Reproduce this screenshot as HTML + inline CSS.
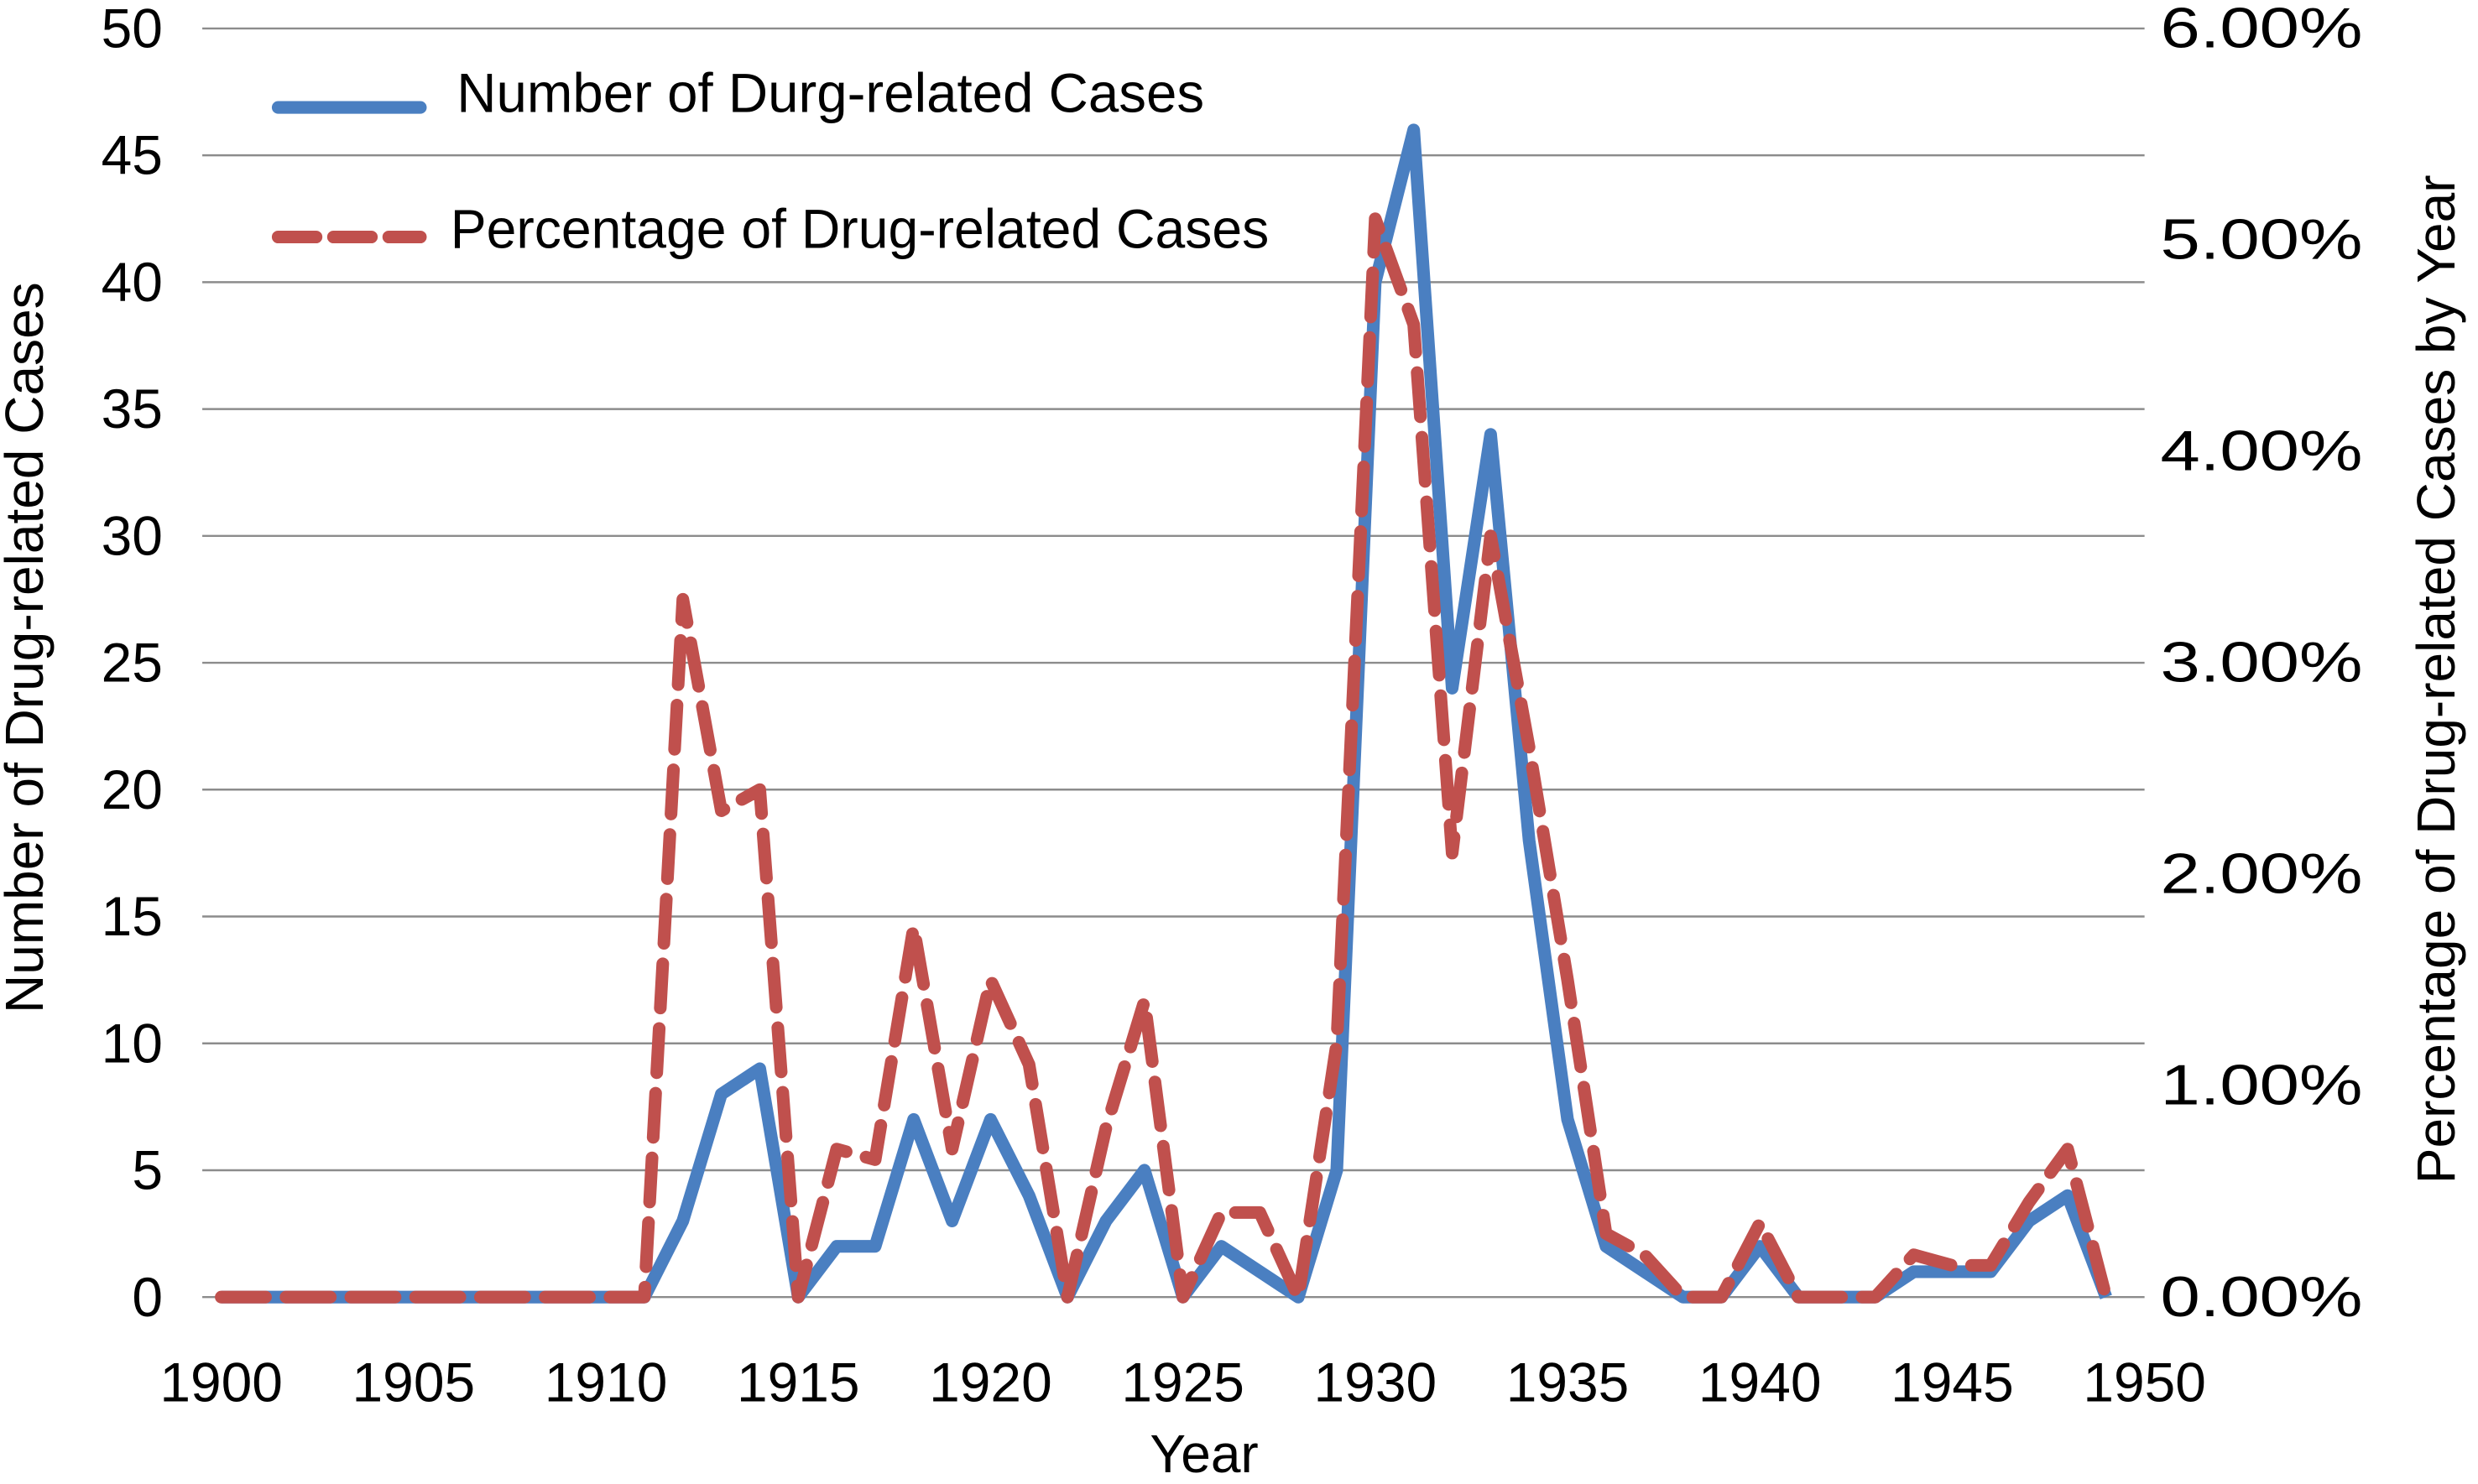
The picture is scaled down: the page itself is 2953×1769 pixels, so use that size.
<!DOCTYPE html>
<html><head><meta charset="utf-8"><style>html,body{margin:0;padding:0;background:#fff}svg{display:block}</style></head>
<body>
<svg id="chart" width="2953" height="1769" viewBox="0 0 1568 939.3" xmlns="http://www.w3.org/2000/svg" font-family="'Liberation Sans', sans-serif">
<g id="grid"></g>
<g id="ticks"></g>
<g id="series"></g>
<text transform="translate(27,410) rotate(-90)" text-anchor="middle" font-size="34" fill="#000">Number of Drug-related Cases</text>
<text transform="translate(1553,430) rotate(-90)" text-anchor="middle" font-size="34" fill="#000">Percentage of Drug-related Cases by Year</text>
<text x="762" y="932" text-anchor="middle" font-size="34" fill="#000">Year</text>
<g>
<line x1="176" y1="68" x2="266" y2="68" stroke="#4a7fc1" stroke-width="8" stroke-linecap="round"/>
<text x="289" y="71" font-size="35" textLength="473" lengthAdjust="spacingAndGlyphs" fill="#000">Number of Durg-related Cases</text>
<line x1="176" y1="150" x2="266" y2="150" stroke="#c0504d" stroke-width="8" stroke-dasharray="24,11" stroke-linecap="round"/>
<text x="285" y="157" font-size="35" textLength="518" lengthAdjust="spacingAndGlyphs" fill="#000">Percentage of Drug-related Cases</text>
</g>
</svg>
<script>
const years = [];
for (let y = 1900; y <= 1949; y++) years.push(y);
const counts = [0,0,0,0,0,0,0,0,0,0,0,0,3,8,9,0,2,2,7,3,7,4,0,3,5,0,2,1,0,5,40,46,24,34,18,7,2,1,0,0,2,0,0,0,1,1,1,3,4,0];
const percents = [0,0,0,0,0,0,0,0,0,0,0,0,3.3,2.3,2.4,0,0.7,0.65,1.75,0.7,1.5,1.1,0,0.8,1.4,0,0.4,0.4,0,1.2,5.1,4.6,2.1,3.6,2.6,1.5,0.3,0.2,0,0,0.35,0,0,0,0.2,0.15,0.15,0.45,0.7,0];
const leftTicks = [0,5,10,15,20,25,30,35,40,45,50];
const rightTicks = [0,1,2,3,4,5,6];
const xTicks = [1900,1905,1910,1915,1920,1925,1930,1935,1940,1945,1950];

const NS = 'http://www.w3.org/2000/svg';
const X = v => 140 + (v - 1900) * (1357 - 140) / 50;
const Y = v => 821 - v * (821 - 18) / 50;
const Y2 = v => 821 - v * (821 - 18) / 6;
function mk(tag, attrs, parent, txt) {
  const e = document.createElementNS(NS, tag);
  for (const k in attrs) e.setAttribute(k, attrs[k]);
  if (txt !== undefined) e.textContent = txt;
  parent.appendChild(e);
  return e;
}
const grid = document.getElementById('grid');
const ticks = document.getElementById('ticks');
const series = document.getElementById('series');
leftTicks.forEach(t => {
  const l = mk('line', {x1: 128, x2: 1357, y1: Y(t), y2: Y(t), stroke: '#8c8c8c', 'stroke-width': 1.3}, grid);
  
  
  const tx = mk('text', {x: 103, y: Y(t) + 12, 'text-anchor': 'end', 'font-size': 35, fill: '#000'}, ticks, String(t));
  
  
});
rightTicks.forEach(t => {
  const tx = mk('text', {x: 1367, y: Y2(t) + 12, 'font-size': 36, 'textLength': 128, 'lengthAdjust': 'spacingAndGlyphs', fill: '#000'}, ticks, t.toFixed(2) + '%');
  
  
});
xTicks.forEach(t => {
  const tx = mk('text', {x: X(t), y: 887, 'text-anchor': 'middle', 'font-size': 35, fill: '#000'}, ticks, String(t));
  
  
});
const bp = years.map((y, i) => X(y) + ',' + Y(counts[i])).join(' ');
const blue = mk('polyline', {points: bp, fill: 'none', stroke: '#4a7fc1', 'stroke-width': 8, 'stroke-linejoin': 'round'}, series);


const rp = years.map((y, i) => X(y) + ',' + Y2(percents[i])).join(' ');
const red = mk('polyline', {points: rp, fill: 'none', stroke: '#c0504d', 'stroke-width': 8, 'stroke-dasharray': '28,13', 'stroke-linejoin': 'round', 'stroke-linecap': 'round'}, series);


</script>
</body></html>
